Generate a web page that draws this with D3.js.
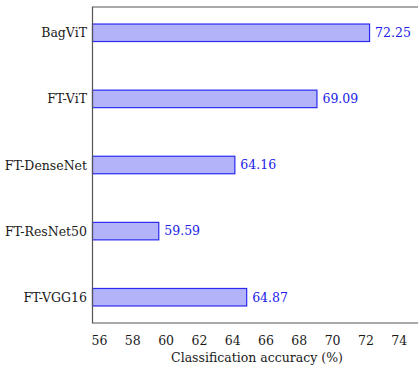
<!DOCTYPE html>
<html>
<head>
<meta charset="utf-8">
<script src="https://cdn.jsdelivr.net/npm/d3@7/dist/d3.min.js"></script>
<style>
  html, body { margin: 0; padding: 0; background: #fff; }
  svg { display: block; }
</style>
</head>
<body>
<svg id="chart" width="418" height="370"></svg>
<script>
// Classification accuracy per model
const models = ["BagViT", "FT-ViT", "FT-DenseNet", "FT-ResNet50", "FT-VGG16"];
const accuracy = [72.25, 69.09, 64.16, 59.59, 64.87];
const xTicks = [56, 58, 60, 62, 64, 66, 68, 70, 72, 74];
const xTitle = "Classification accuracy (%)";

const FONT = "'DejaVu Serif', serif";
const FS = 12.5;

const svg = d3.select("#chart");
const plot = { left: 92.5, top: 7, bottom: 323, right: 420 };

// x: accuracy axis, unit width ~16.65px
const x = d3.scaleLinear()
  .domain([55.61, 55.61 + (plot.right - plot.left) / 16.65])
  .range([plot.left, plot.right]);

const y = d3.scalePoint()
  .domain(models)
  .range([plot.top, plot.bottom])
  .padding(0.39);

const barH = 17.5;
const data = models.map((m, i) => ({ model: m, value: accuracy[i] }));

// bars
svg.append("g")
  .selectAll("rect")
  .data(data)
  .join("rect")
  .attr("x", plot.left)
  .attr("y", d => y(d.model) - barH / 2)
  .attr("width", d => x(d.value) - plot.left)
  .attr("height", barH)
  .attr("fill", "#b3b3fa")
  .attr("stroke", "#2a2af0")
  .attr("stroke-width", 1.2);

// value labels
svg.append("g")
  .selectAll("text")
  .data(data)
  .join("text")
  .attr("x", d => x(d.value) + 5.5)
  .attr("y", d => y(d.model))
  .attr("dy", "0.35em")
  .style("font-family", FONT)
  .style("font-size", FS + "px")
  .attr("fill", "#2020e8")
  .text(d => d.value.toFixed(2));

// category labels
const yAxis = d3.axisLeft(y).tickSize(0).tickPadding(5.5);
const gy = svg.append("g")
  .attr("transform", `translate(${plot.left},0)`)
  .call(yAxis);
gy.select(".domain").remove();
gy.selectAll("text")
  .style("font-family", FONT)
  .style("font-size", FS + "px")
  .attr("fill", "#1a1a1a");

// x tick labels
const xAxis = d3.axisBottom(x).tickValues(xTicks).tickSize(0).tickPadding(13).tickFormat(d3.format("d"));
const gx = svg.append("g")
  .attr("transform", `translate(0,${plot.bottom})`)
  .call(xAxis);
gx.select(".domain").remove();
gx.selectAll("text")
  .style("font-family", FONT)
  .style("font-size", FS + "px")
  .attr("fill", "#1a1a1a");

// frame
svg.append("path")
  .attr("d", `M${plot.right + 5},${plot.top}H${plot.left}V${plot.bottom}H${plot.right + 5}`)
  .attr("fill", "none")
  .attr("stroke", "#555")
  .attr("stroke-width", 1.2);

// axis title
svg.append("text")
  .attr("x", 257)
  .attr("y", 362)
  .attr("text-anchor", "middle")
  .style("font-family", FONT)
  .style("font-size", FS + "px")
  .attr("fill", "#1a1a1a")
  .text(xTitle);
</script>
</body>
</html>
